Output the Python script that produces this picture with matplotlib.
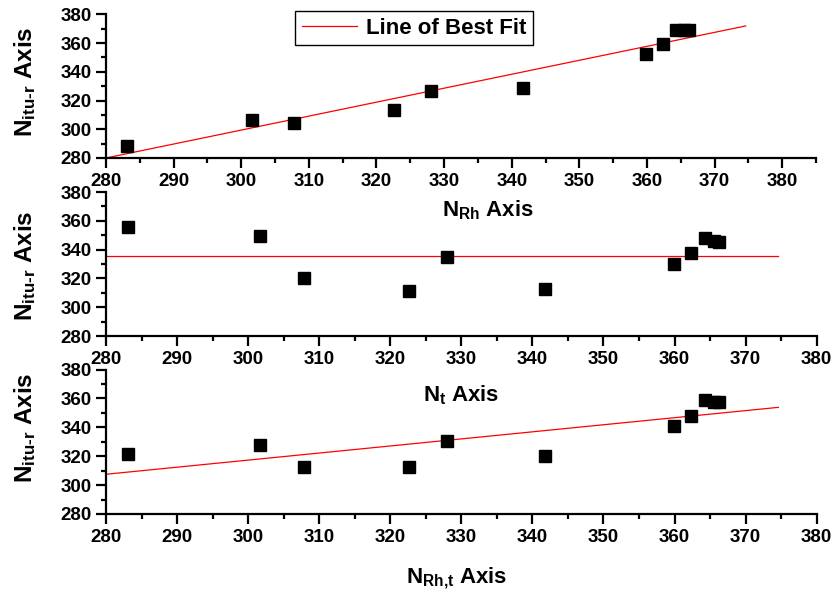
import numpy as np
import matplotlib.pyplot as plt
from matplotlib.ticker import MultipleLocator

plt.rcParams['font.family'] = 'Liberation Sans'
plt.rcParams['font.weight'] = 'bold'
plt.rcParams['mathtext.fontset'] = 'custom'
plt.rcParams['mathtext.rm'] = 'Liberation Sans:bold'
plt.rcParams['mathtext.it'] = 'Liberation Sans:bold'
plt.rcParams['mathtext.bf'] = 'Liberation Sans:bold'

# x positions shared by the three panels
x_vals = [283.05, 301.6, 307.8, 322.6, 328.0, 341.7, 359.9, 362.3, 364.3, 365.5, 366.2]

# N_itu-r values against each quantity
y_rh = [288.1, 306.6, 304.7, 313.5, 326.9, 328.6, 352.4, 359.4, 369.1, 369.0, 369.0]
y_t = [355.9, 349.7, 320.0, 311.0, 334.6, 312.4, 329.8, 337.4, 348.3, 346.0, 345.5]
y_rht = [321.7, 327.9, 312.3, 312.3, 330.7, 320.1, 341.2, 348.1, 358.9, 357.2, 357.2]

# best fit line end points
fit_x = [280, 374.6]
fit_rh = [280, 371.9]
fit_t = [335.5, 335.5]
fit_rht = [307.5, 353.8]

x_labels = [r'N$_{\text{Rh}}$ Axis', r'N$_{\text{t}}$ Axis', r'N$_{\text{Rh,t}}$ Axis']
y_label = r'N$_{\text{itu-r}}$ Axis'

W, H = 836, 598
fig = plt.figure(figsize=(W / 100, H / 100), dpi=100)

# panel boxes in pixels: left, top, right, bottom
boxes = [(106, 14.3, 816, 158), (106, 192, 816.7, 336), (106, 369.5, 816.7, 514)]
xmaxes = [385, 380, 380]
series = [y_rh, y_t, y_rht]
fits = [fit_rh, fit_t, fit_rht]
xlabel_pos = [(488, 210), (461, 395), (457, 578)]
ylabel_pos = [(25, 82), (25, 266), (25, 428)]

axes = []
for i in range(3):
    l, t, r, b = boxes[i]
    ax = fig.add_axes([l / W, 1 - b / H, (r - l) / W, (b - t) / H])
    ax.plot(fit_x, fits[i], color='red', lw=0.9, label='Line of Best Fit')
    ax.plot(x_vals, series[i], 's', color='black', ms=8, zorder=3)
    ax.set_xlim(280, xmaxes[i])
    ax.set_ylim(280, 380)
    ax.xaxis.set_major_locator(MultipleLocator(10))
    ax.xaxis.set_minor_locator(MultipleLocator(5))
    ax.yaxis.set_major_locator(MultipleLocator(20))
    ax.yaxis.set_minor_locator(MultipleLocator(10))
    for s in ['top', 'right']:
        ax.spines[s].set_visible(False)
    for s in ['left', 'bottom']:
        ax.spines[s].set_linewidth(1.6)
    ax.tick_params(which='major', direction='out', length=7, width=1.6, labelsize=13.5)
    ax.tick_params(which='minor', direction='out', length=3.5, width=1.6)
    ax.patch.set_alpha(0)
    for lab in ax.get_xticklabels() + ax.get_yticklabels():
        lab.set_fontweight('bold')
    fig.text(xlabel_pos[i][0] / W, 1 - xlabel_pos[i][1] / H, x_labels[i],
             fontsize=16, ha='center', va='center')
    fig.text(ylabel_pos[i][0] / W, 1 - ylabel_pos[i][1] / H, y_label,
             fontsize=17.5, ha='center', va='center', rotation=90)
    axes.append(ax)

leg = axes[0].legend(loc='upper left', bbox_to_anchor=(295 / W, 1 - 11 / H),
                     bbox_transform=fig.transFigure, borderaxespad=0,
                     fancybox=False, edgecolor='black', framealpha=1,
                     prop={'size': 16, 'weight': 'bold'}, handlelength=2.5,
                     borderpad=0.3, handletextpad=0.4)
leg.get_frame().set_linewidth(1.0)

fig.savefig('out.png', dpi=100)
